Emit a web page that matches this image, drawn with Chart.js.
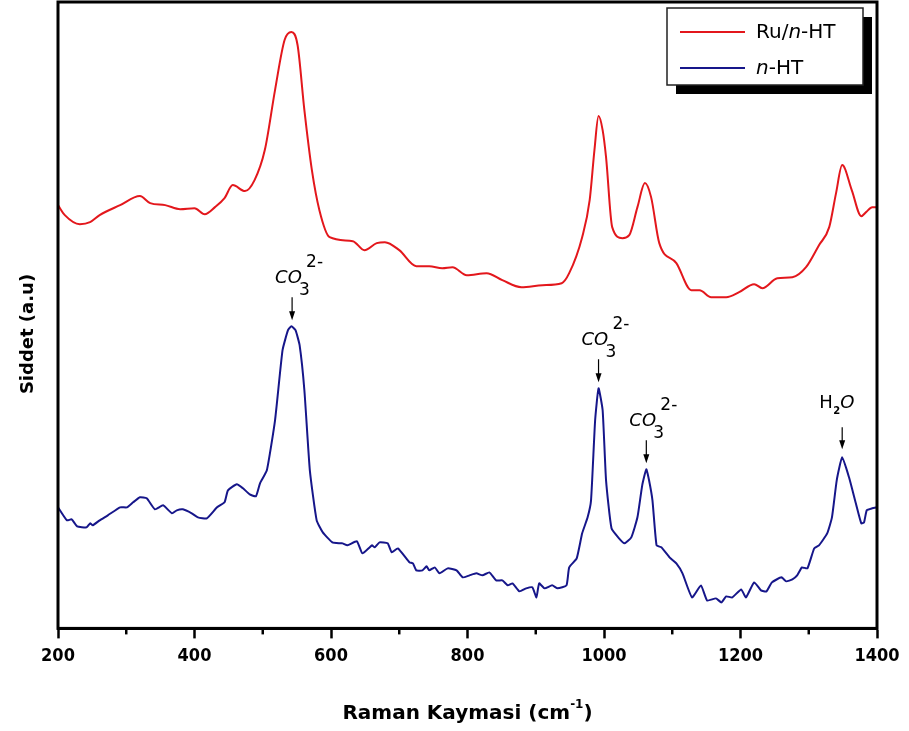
<!DOCTYPE html>
<html>
<head>
<meta charset="utf-8">
<script src="https://cdn.jsdelivr.net/npm/chart.js@4.4.0/dist/chart.umd.min.js"></script>
<style>
html, body { margin: 0; padding: 0; background: #fff; }
</style>
</head>
<body>
<canvas id="grafico" width="909" height="731"></canvas>
<script>
// Ru/n-HT spektrumu (Raman kaymasi, cm-1 / siddet, a.u)
const ruX = [200, 210, 232, 247, 261, 291, 320, 335, 357, 379, 400, 415, 430, 444, 456, 474, 488, 503, 518, 532, 542, 551, 561, 572, 583, 598,
  632, 649, 667, 679, 700, 725, 744, 763, 778, 799, 828, 851, 879, 910, 938, 949, 968, 979, 986, 992, 998, 1003, 1012, 1027, 1037, 1049,
  1060, 1069, 1081, 1106, 1128, 1140, 1157, 1179, 1198, 1220, 1232, 1254, 1276, 1296, 1315, 1330, 1340, 1349, 1363, 1377, 1384, 1393, 1400];
const ruY = [423, 413, 404, 406, 413, 423, 432, 425, 423, 419, 420, 414, 421, 430, 443, 437, 448, 478, 538, 588, 596, 583, 518, 458, 418, 391,
  387, 378, 385, 386, 378, 362, 362, 360, 361, 353, 355, 348, 341, 343, 345, 355, 391, 428, 478, 512, 498, 471, 401, 390, 393, 421,
  445, 431, 385, 365, 338, 338, 331, 331, 336, 344, 340, 350, 351, 361, 383, 401, 435, 463, 438, 412, 416, 421, 421];

// n-HT spektrumu
const htX = [200, 213, 220, 228, 242, 247, 251, 261, 273, 291, 301, 310, 320, 330, 342, 354, 367, 374, 383, 396, 405, 418, 433, 444, 449,
  462, 471, 481, 490, 496, 506, 518, 529, 537, 542, 548, 554, 561, 569, 579, 588, 602, 613, 617, 624, 638, 646, 660, 664, 671, 683, 689,
  698, 715, 720, 725, 734, 740, 744, 752, 759, 771, 784, 793, 803, 813, 822, 832, 842, 851, 859, 866, 876, 886, 895, 901, 905, 913, 924,
  932, 945, 949, 960, 968, 976, 981, 987, 992, 998, 1003, 1011, 1022, 1030, 1040, 1049, 1056, 1062, 1066, 1071, 1077, 1084, 1096, 1106,
  1115, 1129, 1142, 1151, 1164, 1172, 1179, 1188, 1201, 1208, 1220, 1230, 1238, 1246, 1260, 1267, 1276, 1283, 1290, 1298, 1308, 1315,
  1327, 1334, 1341, 1349, 1359, 1369, 1377, 1381, 1385, 1393, 1400];
const htY = [121, 108, 109, 102, 101, 105, 103, 108, 113, 121, 121, 126, 131, 130, 119, 123, 115, 118, 119, 115, 111, 110, 121, 126, 138,
  144, 140, 134, 132, 145, 158, 208, 278, 298, 302, 298, 283, 238, 158, 108, 96, 86, 85, 85, 83, 87, 75, 83, 81, 86, 85, 76,
  80, 66, 65, 58, 58, 62, 58, 61, 55, 60, 58, 51, 53, 55, 53, 56, 48, 48, 43, 45, 37, 40, 41, 31, 45, 40, 43,
  40, 43, 61, 70, 95, 111, 128, 208, 240, 218, 148, 100, 90, 85, 91, 111, 143, 159, 148, 128, 83, 81, 71, 65,
  55, 31, 43, 28, 30, 26, 32, 31, 39, 31, 46, 38, 37, 46, 51, 47, 49, 53, 61, 60, 80, 83,
  95, 111, 148, 171, 151, 125, 105, 106, 118, 120, 121];

// pik etiketleri (konum = n-HT pik tepesi)
const etiketX = [543, 992, 1062, 1349];
const etiketY = [302, 240, 159, 171];
const etiketTur = ['CO3', 'CO3', 'CO3', 'H2O'];

const eksenMin = 200, eksenMax = 1400;
const kucukTikler = [300, 500, 700, 900, 1100, 1300];

const KIRMIZI = '#e3171c';
const LACIVERT = '#16168a';
const YAZI = '"DejaVu Sans", "Liberation Sans", sans-serif';
const DAR_YAZI = '"Liberation Sans Narrow", "DejaVu Sans Condensed", "DejaVu Sans", sans-serif';

const noktalar = (xs, ys) => xs.map((x, i) => ({ x, y: ys[i] }));

// cerceve, kucuk tikler, eksen basliklari
const cercevePlugin = {
    id: 'cerceve',
    afterDraw(chart) {
        const { ctx, chartArea: a, scales } = chart;
        ctx.save();
        ctx.strokeStyle = '#000';
        ctx.lineWidth = 3;
        ctx.strokeRect(a.left, a.top, a.right - a.left, a.bottom - a.top);

        ctx.lineWidth = 2.5;
        kucukTikler.forEach(v => {
            const px = scales.x.getPixelForValue(v);
            ctx.beginPath();
            ctx.moveTo(px, a.bottom);
            ctx.lineTo(px, a.bottom + 6);
            ctx.stroke();
        });

        // x ekseni basligi
        ctx.fillStyle = '#000';
        ctx.textBaseline = 'alphabetic';
        const ana = 'Raman Kaymasi (cm';
        const ust = '-1';
        const son = ')';
        ctx.font = 'bold 20px ' + YAZI;
        const w1 = ctx.measureText(ana).width;
        const w3 = ctx.measureText(son).width;
        ctx.font = 'bold 12px ' + YAZI;
        const w2 = ctx.measureText(ust).width;
        let x = (a.left + a.right) / 2 - (w1 + w2 + w3) / 2;
        const by = 719;
        ctx.font = 'bold 20px ' + YAZI;
        ctx.fillText(ana, x, by);
        x += w1;
        ctx.font = 'bold 12px ' + YAZI;
        ctx.fillText(ust, x, by - 11);
        x += w2;
        ctx.font = 'bold 20px ' + YAZI;
        ctx.fillText(son, x, by);

        // y ekseni basligi
        ctx.translate(28, 334);
        ctx.rotate(-Math.PI / 2);
        ctx.textAlign = 'center';
        ctx.textBaseline = 'middle';
        ctx.font = 'bold 18px ' + YAZI;
        ctx.fillText('Siddet (a.u)', 0, 0);
        ctx.restore();
    }
};

// ok ve CO3 2- / H2O yazilari
const etiketPlugin = {
    id: 'etiketler',
    afterDatasetsDraw(chart) {
        const { ctx, scales } = chart;
        ctx.save();
        ctx.fillStyle = '#000';
        ctx.strokeStyle = '#000';
        ctx.textBaseline = 'alphabetic';
        etiketX.forEach((v, i) => {
            const cx = scales.x.getPixelForValue(v);
            const cy = scales.y.getPixelForValue(etiketY[i]);
            const h2o = etiketTur[i] === 'H2O';
            const okUst = cy - (h2o ? 30 : 29);
            const okUc = cy - (h2o ? 8 : 6);
            ctx.lineWidth = 1.2;
            ctx.beginPath();
            ctx.moveTo(cx, okUst);
            ctx.lineTo(cx, okUc - 7);
            ctx.stroke();
            ctx.beginPath();
            ctx.moveTo(cx - 3, okUc - 9);
            ctx.lineTo(cx + 3, okUc - 9);
            ctx.lineTo(cx, okUc);
            ctx.closePath();
            ctx.fill();

            if (h2o) {
                const by = cy - 49;
                ctx.font = '18px ' + YAZI;
                ctx.fillText('H', cx - 23, by);
                ctx.font = 'bold 10px ' + YAZI;
                ctx.fillText('2', cx - 9, by + 6);
                ctx.font = 'italic 18px ' + YAZI;
                ctx.fillText('O', cx - 2, by);
            } else {
                const by = cy - 43;
                ctx.font = 'italic 18px ' + YAZI;
                ctx.fillText('CO', cx - 17, by);
                ctx.font = '17px ' + YAZI;
                ctx.fillText('3', cx + 7, by + 12);
                ctx.fillText('2-', cx + 14, by - 16);
            }
        });
        ctx.restore();
    }
};

// golgeli lejant kutusu
const lejantPlugin = {
    id: 'lejant',
    afterDraw(chart) {
        const { ctx, chartArea: a } = chart;
        const sol = a.right - 210, ust = a.top + 6, gen = 196, yuk = 77;
        ctx.save();
        ctx.fillStyle = '#000';
        ctx.fillRect(sol + 9, ust + 9, gen, yuk);
        ctx.fillStyle = '#fff';
        ctx.fillRect(sol, ust, gen, yuk);
        ctx.strokeStyle = '#222';
        ctx.lineWidth = 1.5;
        ctx.strokeRect(sol, ust, gen, yuk);

        const satirlar = [
            { renk: chart.data.datasets[0].borderColor, parca: [['Ru/', ''], ['n', 'italic '], ['-HT', '']] },
            { renk: chart.data.datasets[1].borderColor, parca: [['n', 'italic '], ['-HT', '']] }
        ];
        satirlar.forEach((s, i) => {
            const y = ust + 24 + i * 36;
            ctx.strokeStyle = s.renk;
            ctx.lineWidth = 2;
            ctx.beginPath();
            ctx.moveTo(sol + 13, y);
            ctx.lineTo(sol + 78, y);
            ctx.stroke();
            ctx.fillStyle = '#000';
            ctx.textBaseline = 'middle';
            let x = sol + 89;
            s.parca.forEach(([t, stil]) => {
                ctx.font = stil + '20px ' + YAZI;
                ctx.fillText(t, x, y + 1);
                x += ctx.measureText(t).width;
            });
        });
        ctx.restore();
    }
};

new Chart(document.getElementById('grafico'), {
    type: 'line',
    data: {
        datasets: [
            {
                label: 'Ru/n-HT',
                data: noktalar(ruX, ruY),
                borderColor: KIRMIZI,
                borderWidth: 2,
                pointRadius: 0,
                tension: 0.4,
                cubicInterpolationMode: 'monotone'
            },
            {
                label: 'n-HT',
                data: noktalar(htX, htY),
                borderColor: LACIVERT,
                borderWidth: 2,
                pointRadius: 0,
                tension: 0.15
            }
        ]
    },
    options: {
        responsive: false,
        animation: false,
        layout: { padding: { left: 58, top: 2, right: 32, bottom: 57 } },
        plugins: {
            legend: { display: false },
            tooltip: { enabled: false }
        },
        scales: {
            x: {
                type: 'linear',
                min: eksenMin,
                max: eksenMax,
                ticks: {
                    stepSize: 200,
                    color: '#000',
                    padding: 7,
                    font: { family: DAR_YAZI, size: 18, weight: 'bold' },
                    callback: v => String(v)
                },
                grid: {
                    drawOnChartArea: false,
                    drawTicks: true,
                    tickLength: 10,
                    tickWidth: 2.5,
                    tickColor: '#000'
                },
                border: { display: true, width: 3, color: '#000' }
            },
            y: { display: false, min: 0, max: 626 }
        }
    },
    plugins: [cercevePlugin, etiketPlugin, lejantPlugin]
});
</script>
</body>
</html>
